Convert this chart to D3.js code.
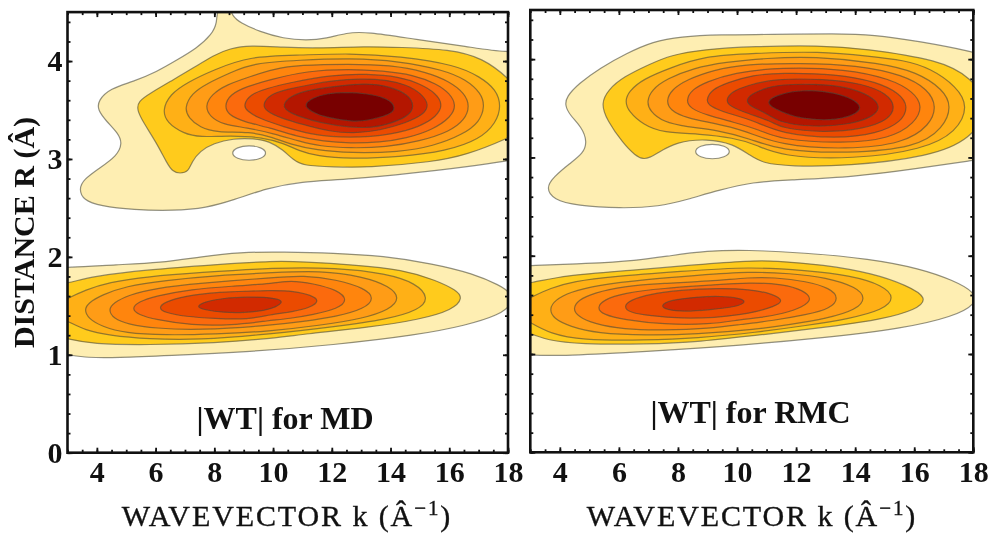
<!DOCTYPE html>
<html lang="en">
<head>
<meta charset="utf-8" />
<title>WT maps</title>
<script src="https://d3js.org/d3.v7.min.js"></script>
<style>
    html, body { margin:0; padding:0; overflow:hidden; background:#fff }
    svg { position:fixed; top:0; left:0 }
    text { font-family:"Liberation Serif", serif; fill:#111 }
</style>
</head>
<body>
<svg id="svg" width="990" height="533" viewBox="0 0 990 533"></svg>
<script>

// outer contour first, innermost last. each contour is a list of [k, R]
let levelColors = ["#feeeb2","#ffcb1f","#ffb016","#ff9c12","#ff8510","#fb6a0a","#eb4b05","#d22c00","#b41400","#780000"];

let kMajor = [4,6,8,10,12,14,16,18];
let kMinor = d3.range(3,18.01,0.5);
let rMajor = [0,1,2,3,4];
let rMinor = d3.range(0,4.51,0.2);

let mdUpper = [
 [[8.08,4.56],[8.10,4.39],[7.91,4.27],[7.40,4.13],[6.72,4.01],[6.04,3.89],[5.24,3.79],[4.45,3.72],[4.05,3.60],[4.02,3.50],[4.34,3.38],[4.73,3.26],[4.87,3.16],[4.68,3.03],[4.11,2.91],[3.54,2.79],[3.39,2.69],[3.54,2.58],[4.11,2.52],[5.24,2.48],[6.61,2.47],[7.74,2.50],[8.65,2.58],[9.78,2.70],[10.91,2.77],[12.61,2.79],[14.88,2.86],[16.58,2.92],[18.0,2.98],[18.85,3.03],[19.4,3.6],[18.85,4.12],[18.0,4.08],[16.58,4.15],[14.88,4.22],[13.18,4.30],[12.50,4.29],[11.82,4.23],[11.14,4.21],[10.35,4.23],[9.55,4.30],[8.87,4.39],[8.59,4.47],[8.53,4.56]],
 [[5.36,3.50],[5.41,3.59],[5.81,3.67],[6.49,3.79],[7.29,3.93],[7.97,4.06],[8.53,4.13],[9.21,4.16],[10.35,4.14],[11.48,4.13],[13.18,4.15],[14.31,4.14],[16.02,4.12],[17.15,4.03],[18.0,3.83],[18.74,3.60],[18.74,3.33],[18.0,3.21],[16.58,3.04],[15.45,2.97],[13.18,2.91],[12.05,2.92],[11.03,2.93],[10.69,2.99],[10.35,3.09],[9.89,3.18],[9.33,3.21],[8.65,3.21],[7.97,3.16],[7.51,3.08],[7.23,2.97],[7.12,2.87],[6.83,2.85],[6.58,2.87],[6.38,2.96],[6.04,3.16],[5.59,3.37]],
 [[6.23,3.50],[6.38,3.37],[6.95,3.26],[7.51,3.22],[8.53,3.24],[9.67,3.22],[10.35,3.16],[10.91,3.08],[11.48,3.03],[12.61,3.0],[14.31,3.02],[15.90,3.08],[17.04,3.20],[17.60,3.37],[17.77,3.54],[17.60,3.71],[17.04,3.84],[16.24,3.96],[14.31,4.05],[12.61,4.08],[10.91,4.06],[9.21,4.05],[7.97,3.91],[7.06,3.78],[6.49,3.66]],
 [[6.98,3.52],[7.12,3.42],[7.51,3.32],[8.08,3.27],[9.21,3.28],[10.01,3.22],[10.57,3.15],[11.48,3.09],[12.61,3.06],[14.31,3.07],[15.45,3.13],[16.47,3.25],[17.04,3.38],[17.21,3.54],[17.09,3.67],[16.58,3.81],[15.79,3.91],[14.31,4.0],[12.61,4.03],[10.91,4.01],[9.33,3.98],[8.53,3.88],[7.74,3.77],[7.23,3.67]],
 [[7.68,3.54],[7.85,3.43],[8.31,3.35],[9.10,3.32],[10.01,3.26],[10.91,3.18],[11.59,3.13],[12.61,3.11],[13.86,3.12],[14.99,3.18],[16.02,3.28],[16.53,3.40],[16.70,3.54],[16.53,3.67],[16.02,3.79],[15.22,3.89],[13.98,3.96],[12.61,3.97],[10.91,3.96],[10.01,3.92],[9.21,3.84],[8.42,3.76],[7.91,3.66]],
 [[8.34,3.54],[8.48,3.45],[8.99,3.38],[9.89,3.32],[10.80,3.23],[11.71,3.18],[12.61,3.16],[13.64,3.17],[14.54,3.21],[15.45,3.30],[16.07,3.43],[16.24,3.55],[16.02,3.67],[15.56,3.77],[14.77,3.86],[13.75,3.90],[12.61,3.92],[11.14,3.90],[9.89,3.81],[9.10,3.74],[8.53,3.66]],
 [[8.99,3.55],[9.10,3.49],[9.55,3.41],[10.35,3.33],[11.25,3.25],[12.61,3.21],[14.09,3.25],[14.99,3.33],[15.56,3.43],[15.79,3.55],[15.56,3.67],[14.99,3.77],[14.31,3.84],[13.18,3.87],[12.05,3.86],[10.57,3.78],[9.78,3.72],[9.21,3.66]],
 [[9.63,3.55],[9.78,3.49],[10.23,3.42],[11.03,3.35],[11.93,3.28],[12.73,3.26],[13.64,3.29],[14.54,3.37],[15.11,3.45],[15.33,3.55],[15.05,3.67],[14.54,3.76],[13.86,3.81],[12.95,3.82],[12.05,3.80],[11.25,3.76],[10.46,3.71],[9.89,3.66]],
 [[10.32,3.55],[10.46,3.49],[10.91,3.43],[11.59,3.37],[12.61,3.32],[13.41,3.32],[13.86,3.35],[14.60,3.43],[14.83,3.54],[14.60,3.66],[13.98,3.74],[13.18,3.78],[11.82,3.73],[11.14,3.70],[10.57,3.64]],
 [[11.05,3.55],[11.25,3.49],[11.82,3.42],[12.73,3.38],[13.18,3.39],[13.98,3.45],[14.20,3.52],[13.92,3.62],[13.18,3.67],[12.50,3.68],[11.82,3.67],[11.31,3.62]]
];
let mdHole = [[8.56,3.06],[8.76,3.12],[9.18,3.14],[9.61,3.12],[9.81,3.06],[9.61,3.0],[9.18,2.98],[8.76,3.0]];

let mdLower = [
 [[2.18,1.89],[3.03,1.89],[4.68,1.92],[6.16,1.94],[7.51,2.0],[8.87,2.05],[10.35,2.05],[12.05,2.04],[13.75,2.01],[15.45,1.93],[16.81,1.83],[17.72,1.71],[18.12,1.63],[18.12,1.51],[17.72,1.41],[16.58,1.30],[14.88,1.20],[12.05,1.10],[9.21,1.03],[6.38,0.99],[4.68,0.97],[3.66,0.97],[3.03,1.0],[2.18,1.03]],
 [[2.2,1.70],[3.03,1.73],[3.82,1.80],[5.75,1.87],[8.02,1.92],[10.06,1.96],[11.02,1.95],[12.72,1.92],[14.43,1.87],[15.56,1.76],[16.24,1.66],[16.47,1.58],[16.13,1.46],[14.99,1.36],[13.29,1.28],[11.02,1.21],[10.06,1.17],[8.02,1.12],[5.75,1.10],[3.82,1.11],[3.03,1.16],[2.2,1.22]],
 [[2.2,1.45],[3.03,1.58],[3.6,1.66],[4.39,1.74],[5.75,1.80],[7.45,1.84],[10.06,1.89],[12.16,1.89],[13.86,1.83],[14.88,1.73],[15.31,1.58],[14.99,1.46],[13.86,1.36],[12.16,1.29],[9.89,1.21],[7.45,1.15],[5.75,1.16],[4.39,1.20],[3.6,1.25],[3.03,1.34]],
 [[3.57,1.46],[3.71,1.53],[4.16,1.61],[4.96,1.70],[6.32,1.76],[8.02,1.81],[10.06,1.84],[11.59,1.86],[13.06,1.80],[13.97,1.70],[14.33,1.58],[13.97,1.46],[13.06,1.37],[11.59,1.30],[9.89,1.24],[8.02,1.21],[6.32,1.20],[4.96,1.22],[4.16,1.29],[3.71,1.37]],
 [[4.39,1.46],[4.56,1.53],[5.07,1.61],[5.98,1.68],[7.45,1.73],[10.06,1.79],[11.02,1.81],[12.16,1.77],[13.12,1.68],[13.46,1.58],[13.12,1.47],[12.16,1.39],[11.02,1.34],[9.89,1.30],[7.45,1.25],[5.98,1.27],[5.07,1.31],[4.56,1.37]],
 [[5.18,1.47],[5.41,1.54],[5.98,1.60],[7.22,1.67],[8.58,1.70],[10.06,1.73],[10.57,1.76],[11.36,1.73],[12.21,1.66],[12.55,1.56],[12.21,1.47],[11.36,1.41],[10.57,1.37],[9.89,1.35],[8.58,1.30],[7.22,1.30],[5.98,1.36],[5.41,1.41]],
 [[6.09,1.48],[6.32,1.54],[7.0,1.60],[8.02,1.64],[10.06,1.66],[10.68,1.65],[11.31,1.61],[11.59,1.55],[11.25,1.48],[10.68,1.44],[9.89,1.41],[9.15,1.36],[8.02,1.37],[7.0,1.39],[6.32,1.43]],
 [[7.38,1.49],[7.64,1.54],[8.32,1.58],[9.15,1.59],[9.71,1.59],[10.18,1.57],[10.34,1.54],[10.12,1.49],[9.71,1.45],[9.04,1.43],[8.32,1.43],[7.64,1.46]]
];

let rmcUpper = [
 [[4.17,3.53],[4.23,3.62],[4.63,3.75],[5.36,3.91],[6.26,4.06],[7.16,4.18],[8.07,4.23],[9.42,4.25],[11.12,4.25],[13.37,4.26],[14.61,4.25],[16.19,4.18],[17.94,4.08],[19.0,3.99],[19.2,3.52],[19.0,3.01],[17.94,2.97],[16.19,2.89],[13.94,2.80],[11.68,2.77],[10.55,2.75],[9.42,2.67],[8.29,2.57],[7.39,2.50],[6.04,2.48],[4.57,2.51],[3.78,2.57],[3.53,2.69],[3.78,2.80],[4.34,2.94],[4.79,3.04],[4.93,3.16],[4.74,3.31],[4.34,3.43]],
 [[5.39,3.55],[5.64,3.69],[6.15,3.82],[7.05,3.95],[7.74,4.04],[8.86,4.10],[10.55,4.13],[12.81,4.14],[14.28,4.11],[16.88,3.99],[17.89,3.82],[18.67,3.52],[17.89,3.18],[16.54,3.01],[13.72,2.91],[11.79,2.91],[10.89,2.94],[10.44,3.02],[9.87,3.14],[8.97,3.19],[7.96,3.16],[7.28,3.04],[7.05,3.0],[6.83,2.98],[6.55,3.02],[6.15,3.14],[5.59,3.38]],
 [[6.21,3.57],[6.32,3.67],[6.83,3.80],[7.73,3.91],[8.86,4.03],[10.55,4.06],[12.81,4.08],[14.5,4.03],[15.64,3.99],[16.54,3.91],[17.44,3.72],[17.84,3.52],[17.44,3.26],[16.31,3.08],[13.94,2.98],[11.46,3.01],[10.66,3.13],[9.87,3.20],[8.75,3.24],[7.5,3.25],[6.83,3.33],[6.32,3.47]],
 [[6.94,3.57],[7.11,3.69],[7.62,3.80],[8.52,3.91],[9.6,3.97],[11.0,4.01],[12.58,4.03],[14.85,3.96],[16.09,3.87],[16.99,3.69],[17.27,3.52],[16.99,3.30],[16.09,3.10],[13.72,3.04],[11.46,3.07],[10.44,3.19],[9.31,3.28],[8.29,3.31],[7.5,3.36],[7.05,3.47]],
 [[7.6,3.58],[7.79,3.69],[8.29,3.79],[9.2,3.89],[10.3,3.95],[12.14,3.96],[14.06,3.94],[15.64,3.84],[16.48,3.69],[16.76,3.52],[16.54,3.33],[15.64,3.14],[13.72,3.08],[11.46,3.12],[10.21,3.28],[9.2,3.35],[8.29,3.40],[7.73,3.48]],
 [[8.27,3.58],[8.46,3.69],[8.97,3.77],[9.87,3.86],[11.46,3.92],[13.72,3.90],[15.18,3.80],[15.97,3.67],[16.29,3.52],[16.03,3.35],[15.18,3.19],[13.6,3.14],[11.46,3.18],[10.78,3.28],[9.87,3.36],[8.97,3.43],[8.41,3.50]],
 [[8.94,3.58],[9.14,3.69],[9.65,3.76],[10.55,3.84],[11.46,3.86],[13.38,3.85],[14.73,3.77],[15.52,3.65],[15.8,3.52],[15.58,3.36],[14.73,3.24],[13.38,3.19],[11.46,3.24],[10.55,3.38],[9.65,3.45],[9.08,3.52]],
 [[9.61,3.58],[9.82,3.67],[10.33,3.73],[11.23,3.80],[12.93,3.80],[14.28,3.75],[15.07,3.65],[15.38,3.52],[15.13,3.38],[14.28,3.29],[12.93,3.25],[11.46,3.30],[11.23,3.36],[10.33,3.45],[9.76,3.52]],
 [[10.29,3.58],[10.5,3.65],[11.0,3.71],[11.46,3.74],[12.59,3.75],[13.72,3.72],[14.51,3.63],[14.88,3.52],[14.62,3.41],[13.72,3.33],[12.59,3.31],[11.46,3.35],[11.0,3.45],[10.44,3.52]],
 [[11.0,3.56],[11.23,3.62],[11.79,3.67],[12.3,3.68],[12.81,3.68],[13.72,3.63],[14.28,3.52],[14.0,3.43],[13.15,3.37],[12.14,3.40],[11.79,3.43],[11.23,3.50]]
];
let rmcHole = [[8.53,3.06],[8.74,3.12],[9.16,3.14],[9.59,3.12],[9.81,3.06],[9.59,3.0],[9.16,2.98],[8.74,3.0]];

let rmcLower = [
 [[2.2,1.89],[3,1.90],[4.91,1.92],[6.6,1.95],[7.73,2.0],[8.97,2.05],[10.33,2.06],[12.24,2.03],[14.5,1.97],[16.19,1.87],[17.32,1.75],[18.05,1.63],[18.11,1.51],[17.32,1.38],[15.63,1.26],[12.81,1.16],[9.42,1.07],[6.04,1.01],[3.78,0.98],[3,0.99],[2.2,1.01]],
 [[2.2,1.70],[3.05,1.72],[4.12,1.80],[6.38,1.85],[8.63,1.91],[10.44,1.95],[11.23,1.95],[12.92,1.91],[14.61,1.82],[15.74,1.70],[16.48,1.57],[16.08,1.45],[14.84,1.35],[13.49,1.29],[11.23,1.21],[8.63,1.12],[6.94,1.10],[4.68,1.10],[3.55,1.14],[3.05,1.21],[2.2,1.26]],
 [[2.2,1.46],[3.05,1.58],[3.67,1.67],[4.46,1.74],[5.81,1.79],[8.07,1.84],[10.44,1.89],[12.36,1.85],[13.82,1.80],[14.95,1.70],[15.35,1.57],[14.95,1.45],[13.82,1.36],[12.36,1.29],[10.66,1.22],[8.63,1.16],[6.94,1.14],[4.68,1.14],[3.67,1.21],[3.05,1.31]],
 [[3.64,1.46],[3.84,1.55],[4.34,1.63],[5.25,1.70],[6.94,1.76],[8.63,1.80],[10.44,1.84],[11.79,1.82],[13.03,1.78],[14.05,1.68],[14.37,1.57],[14.05,1.45],[13.03,1.36],[11.79,1.30],[10.66,1.25],[8.63,1.20],[6.94,1.19],[5.25,1.21],[4.34,1.28],[3.78,1.36]],
 [[4.43,1.46],[4.63,1.55],[5.13,1.62],[6.15,1.69],[7.5,1.72],[9.09,1.74],[10.44,1.78],[11.23,1.78],[12.36,1.74],[13.15,1.67],[13.46,1.57],[13.15,1.46],[12.36,1.40],[11.23,1.34],[10.1,1.30],[9.09,1.26],[7.5,1.24],[6.15,1.25],[5.13,1.31],[4.63,1.38]],
 [[5.25,1.47],[5.47,1.55],[6.15,1.62],[7.5,1.67],[9.09,1.70],[10.44,1.73],[11.57,1.71],[12.24,1.65],[12.56,1.56],[12.24,1.48],[11.57,1.41],[10.78,1.37],[10.1,1.35],[9.09,1.30],[7.5,1.30],[6.15,1.35],[5.47,1.40]],
 [[6.15,1.48],[6.38,1.55],[7.05,1.61],[8.07,1.65],[9.31,1.67],[10.44,1.66],[11.23,1.61],[11.6,1.54],[11.23,1.48],[10.66,1.43],[10.1,1.40],[9.31,1.37],[8.07,1.36],[7.05,1.39],[6.38,1.42]],
 [[7.39,1.49],[7.73,1.55],[8.63,1.58],[9.42,1.59],[10.1,1.57],[10.33,1.53],[9.99,1.48],[9.09,1.45],[8.18,1.43],[7.62,1.45]]
];

let svg = d3.select("svg");

// the source is a slightly soft raster
let soft = svg.append("defs").append("filter").attr("id","soft");
soft.append("feGaussianBlur").attr("stdDeviation","0.4");

function drawPanel(id, box, upper, hole, lower, showR) {
    let x = d3.scaleLinear().domain([3,18]).range([box.left, box.right]);
    let y = d3.scaleLinear().domain([0,4.5]).range([box.bottom, box.top]);

    svg.append("clipPath").attr("id", "clip-" + id)
        .append("rect")
        .attr("x", box.left).attr("y", box.top)
        .attr("width", box.right - box.left).attr("height", box.bottom - box.top);

    // basis irons out the wobble of hand read points
    let line = d3.line()
        .x(d => x(d[0]))
        .y(d => y(d[1]))
        .curve(d3.curveBasisClosed);

    let g = svg.append("g").attr("clip-path", "url(#clip-" + id + ")")
        .append("g").attr("filter", "url(#soft)");

    function contourStyle(sel) {
        sel.attr("stroke", "#4a4a3a")
           .attr("stroke-opacity", 0.6)
           .attr("stroke-width", 1.2)
           .attr("stroke-linejoin", "round");
    }

    g.selectAll(".upper").data(upper).join("path")
        .attr("class", "upper")
        .attr("d", line)
        .attr("fill", (d,i) => levelColors[i])
        .call(contourStyle);
    g.append("path").attr("d", line(hole)).attr("fill", "#fff").call(contourStyle);
    g.selectAll(".lower").data(lower).join("path")
        .attr("class", "lower")
        .attr("d", line)
        .attr("fill", (d,i) => levelColors[i])
        .call(contourStyle);

    // ticks point into the frame on all four sides
    let axes = [
        [d3.axisBottom(x).tickValues(kMinor).tickSize(-3).tickFormat(""), 0, box.bottom],
        [d3.axisTop(x).tickValues(kMinor).tickSize(-3).tickFormat(""), 0, box.top],
        [d3.axisTop(x).tickValues(kMajor).tickSize(-5).tickFormat(""), 0, box.top],
        [d3.axisLeft(y).tickValues(rMinor).tickSize(-3).tickFormat(""), box.left, 0],
        [d3.axisRight(y).tickValues(rMinor).tickSize(-3).tickFormat(""), box.right, 0],
        [d3.axisLeft(y).tickValues(rMajor).tickSize(-5).tickFormat(""), box.left, 0],
        [d3.axisRight(y).tickValues(rMajor).tickSize(-5).tickFormat(""), box.right, 0]
    ];
    axes.forEach(a => {
        svg.append("g").attr("transform", "translate(" + a[1] + "," + a[2] + ")").call(a[0])
            .call(s => s.select(".domain").remove())
            .selectAll("line").attr("stroke", "#111").attr("stroke-width", 1.8);
    });

    let bottomAxis = svg.append("g").attr("transform", "translate(0," + box.bottom + ")")
        .call(d3.axisBottom(x).tickValues(kMajor).tickSize(-5).tickPadding(8).tickFormat(d3.format("d")));
    bottomAxis.select(".domain").remove();
    bottomAxis.selectAll("line").attr("stroke", "#111").attr("stroke-width", 1.8);
    bottomAxis.selectAll("text")
        .attr("font-family", "Liberation Serif").attr("font-weight", "bold").attr("font-size", 30).attr("fill", "#111");

    if (showR) {
        let leftAxis = svg.append("g").attr("transform", "translate(" + box.left + ",0)")
            .call(d3.axisLeft(y).tickValues(rMajor).tickSize(0).tickPadding(5).tickFormat(d3.format("d")));
        leftAxis.select(".domain").remove();
        leftAxis.selectAll("text")
            .attr("font-family", "Liberation Serif").attr("font-weight", "bold").attr("font-size", 30).attr("fill", "#111");
    }

    svg.append("rect")
        .attr("x", box.left).attr("y", box.top)
        .attr("width", box.right - box.left).attr("height", box.bottom - box.top)
        .attr("fill", "none").attr("stroke", "#111").attr("stroke-width", 2.6);
}

drawPanel("md", {left:67.5, right:508, top:12.1, bottom:452.7}, mdUpper, mdHole, mdLower, true);
drawPanel("rmc", {left:530.3, right:973.3, top:10, bottom:452.3}, rmcUpper, rmcHole, rmcLower, false);

// titles inside the panels
svg.append("text").attr("x", 285).attr("y", 429).attr("text-anchor", "middle")
    .attr("font-weight", "bold").attr("font-size", 32).text("|WT| for MD");
svg.append("text").attr("x", 750.5).attr("y", 423).attr("text-anchor", "middle")
    .attr("font-weight", "bold").attr("font-size", 32).text("|WT| for RMC");

// axis titles
function kTitle(cx) {
    let t = svg.append("text").attr("x", cx).attr("y", 526).attr("text-anchor", "middle")
        .attr("font-size", 30).attr("letter-spacing", 1.9)
        .attr("stroke", "#111").attr("stroke-width", 0.35);
    t.append("tspan").text("WAVEVECTOR k (Â");
    t.append("tspan").attr("dy", -11).attr("font-size", 21).text("−1");
    t.append("tspan").attr("dy", 11).text(")");
}
kTitle(287);
kTitle(752);

svg.append("text").attr("transform", "translate(34,232.5) rotate(-90)")
    .attr("text-anchor", "middle").attr("font-size", 30).attr("font-weight", "bold")
    .text("DISTANCE R (Â)");

</script>
</body>
</html>
